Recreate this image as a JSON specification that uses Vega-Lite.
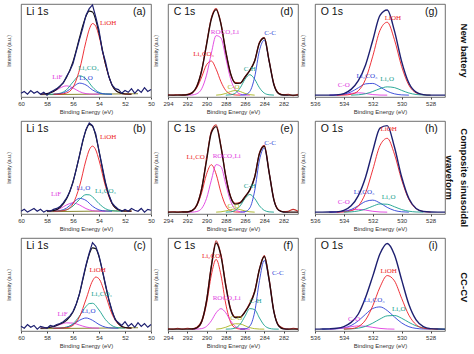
{
"$schema":"https://vega.github.io/schema/vega-lite/v6.json",
"padding":{"left":5,"top":2,"right":0,"bottom":0},
"background":"white",
"data":{"values":[
{"e":"Li","c":"N","x":60,"raw":4},{"e":"Li","c":"N","x":59.75,"raw":6},{"e":"Li","c":"N","x":59.5,"raw":3},{"e":"Li","c":"N","x":59.25,"raw":7},{"e":"Li","c":"N","x":59,"raw":4},{"e":"Li","c":"N","x":58.75,"raw":6},
{"e":"Li","c":"N","x":58.5,"raw":3,"fit":3,"LiF":3,"bg":2.5},{"e":"Li","c":"N","x":58.25,"raw":5},
{"e":"Li","c":"N","x":58,"raw":2,"fit":3.6,"Li2CO3":3,"LiF":3.6},{"e":"Li","c":"N","x":57.75,"raw":5},
{"e":"Li","c":"N","x":57.5,"raw":7,"fit":5.9,"LiOH":3,"Li2CO3":3.1,"Li2O":3,"LiF":5.8},{"e":"Li","c":"N","x":57.25,"raw":9},
{"e":"Li","c":"N","x":57,"raw":12,"fit":11.4,"LiOH":3.1,"Li2CO3":4,"Li2O":3.6,"LiF":9.7},{"e":"Li","c":"N","x":56.75,"raw":15},
{"e":"Li","c":"N","x":56.5,"raw":22,"fit":21,"LiOH":4.3,"Li2CO3":7.8,"Li2O":5.9,"LiF":12},{"e":"Li","c":"N","x":56.25,"raw":28},
{"e":"Li","c":"N","x":56,"raw":36,"fit":38,"LiOH":10.4,"Li2CO3":16.1,"Li2O":10.8,"LiF":9.7},{"e":"Li","c":"N","x":55.75,"raw":49},
{"e":"Li","c":"N","x":55.5,"raw":62,"fit":63.7,"LiOH":29.2,"Li2CO3":22.8,"Li2O":14.9,"LiF":5.8},{"e":"Li","c":"N","x":55.25,"raw":74,"fit":76.6},
{"e":"Li","c":"N","x":55,"raw":88,"fit":86.8,"LiOH":59.8,"Li2CO3":19.5,"Li2O":12.9,"LiF":3.6},{"e":"Li","c":"N","x":54.75,"raw":95,"fit":92.3,"LiOH":72.7},
{"e":"Li","c":"N","x":54.5,"raw":99,"fit":91.4,"LiOH":79,"Li2CO3":10.7,"Li2O":7.6,"LiF":3.1},{"e":"Li","c":"N","x":54.25,"raw":86,"fit":82.8,"LiOH":76.1},
{"e":"Li","c":"N","x":54,"raw":72,"fit":68.7,"LiOH":65.5,"Li2CO3":5,"Li2O":4.2,"LiF":3},{"e":"Li","c":"N","x":53.75,"raw":50},
{"e":"Li","c":"N","x":53.5,"raw":38,"fit":35.3,"LiOH":34.8,"Li2CO3":3.3,"Li2O":3.2},{"e":"Li","c":"N","x":53.25,"raw":22},
{"e":"Li","c":"N","x":53,"raw":13,"fit":13,"LiOH":13,"Li2CO3":3,"Li2O":3},{"e":"Li","c":"N","x":52.75,"raw":9},
{"e":"Li","c":"N","x":52.5,"raw":8,"fit":5,"LiOH":5},{"e":"Li","c":"N","x":52.25,"raw":4},
{"e":"Li","c":"N","x":52,"raw":7,"fit":3.2,"LiOH":3.2},{"e":"Li","c":"N","x":51.75,"raw":5},
{"e":"Li","c":"N","x":51.5,"raw":9,"fit":3,"LiOH":3},{"e":"Li","c":"N","x":51.25,"raw":4},
{"e":"Li","c":"N","x":51,"raw":8,"bg":3.5},{"e":"Li","c":"N","x":50.75,"raw":5},{"e":"Li","c":"N","x":50.5,"raw":10},{"e":"Li","c":"N","x":50.25,"raw":6},{"e":"Li","c":"N","x":50,"raw":8},

{"e":"Li","c":"S","x":60,"raw":3},{"e":"Li","c":"S","x":59.75,"raw":5},{"e":"Li","c":"S","x":59.5,"raw":2},{"e":"Li","c":"S","x":59.25,"raw":4},{"e":"Li","c":"S","x":59,"raw":6},{"e":"Li","c":"S","x":58.75,"raw":3},{"e":"Li","c":"S","x":58.5,"raw":5},{"e":"Li","c":"S","x":58.25,"raw":2},
{"e":"Li","c":"S","x":58,"raw":4,"fit":3,"LiF":3.1,"bg":2.5},{"e":"Li","c":"S","x":57.75,"raw":3},
{"e":"Li","c":"S","x":57.5,"raw":5,"fit":3.6,"LiOH":3,"Li2CO3":3,"Li2O":3,"LiF":3.6},{"e":"Li","c":"S","x":57.25,"raw":6},
{"e":"Li","c":"S","x":57,"raw":8,"fit":7,"LiOH":3.2,"Li2CO3":3.3,"Li2O":3.7,"LiF":5.8},{"e":"Li","c":"S","x":56.75,"raw":12},
{"e":"Li","c":"S","x":56.5,"raw":17,"fit":16,"LiOH":4.5,"Li2CO3":4.5,"Li2O":6.3,"LiF":9.7},{"e":"Li","c":"S","x":56.25,"raw":24},
{"e":"Li","c":"S","x":56,"raw":34,"fit":34.7,"LiOH":11,"Li2CO3":8.6,"Li2O":12.1,"LiF":12},{"e":"Li","c":"S","x":55.75,"raw":48},
{"e":"Li","c":"S","x":55.5,"raw":63,"fit":62.9,"LiOH":29.7,"Li2CO3":15.7,"Li2O":16.8,"LiF":9.7},{"e":"Li","c":"S","x":55.25,"raw":79,"fit":77.9},
{"e":"Li","c":"S","x":55,"raw":91,"fit":90.2,"LiOH":58,"Li2CO3":20.8,"Li2O":14.6,"LiF":5.8},{"e":"Li","c":"S","x":54.75,"raw":98,"fit":96.4,"LiOH":68.9,"Li2CO3":20.6},
{"e":"Li","c":"S","x":54.5,"raw":95,"fit":94.4,"LiOH":73,"Li2CO3":18.4,"Li2O":8.4,"LiF":3.6},{"e":"Li","c":"S","x":54.25,"raw":86,"fit":84,"LiOH":68.9},
{"e":"Li","c":"S","x":54,"raw":68,"fit":67.7,"LiOH":58,"Li2CO3":11.2,"Li2O":4.4,"LiF":3.1},{"e":"Li","c":"S","x":53.75,"raw":51},
{"e":"Li","c":"S","x":53.5,"raw":34,"fit":32.6,"LiOH":29.7,"Li2CO3":5.7,"Li2O":3.2,"LiF":3},{"e":"Li","c":"S","x":53.25,"raw":21},
{"e":"Li","c":"S","x":53,"raw":12,"fit":11.6,"LiOH":11,"Li2CO3":3.6,"Li2O":3},{"e":"Li","c":"S","x":52.75,"raw":8},
{"e":"Li","c":"S","x":52.5,"raw":5,"fit":4.6,"LiOH":4.5,"Li2CO3":3.1},{"e":"Li","c":"S","x":52.25,"raw":3},
{"e":"Li","c":"S","x":52,"raw":5,"fit":3.2,"LiOH":3.1,"Li2CO3":3},{"e":"Li","c":"S","x":51.75,"raw":3},
{"e":"Li","c":"S","x":51.5,"raw":6,"fit":3,"LiOH":3,"bg":3.5},{"e":"Li","c":"S","x":51.25,"raw":4},{"e":"Li","c":"S","x":51,"raw":3},{"e":"Li","c":"S","x":50.75,"raw":6},{"e":"Li","c":"S","x":50.5,"raw":2},{"e":"Li","c":"S","x":50.25,"raw":5},{"e":"Li","c":"S","x":50,"raw":4},

{"e":"Li","c":"C","x":60,"raw":5},{"e":"Li","c":"C","x":59.75,"raw":3},{"e":"Li","c":"C","x":59.5,"raw":7},{"e":"Li","c":"C","x":59.25,"raw":4},{"e":"Li","c":"C","x":59,"raw":6},{"e":"Li","c":"C","x":58.75,"raw":2},
{"e":"Li","c":"C","x":58.5,"raw":5,"fit":3.1,"LiF":3.1,"bg":2.5},{"e":"Li","c":"C","x":58.25,"raw":4},
{"e":"Li","c":"C","x":58,"raw":3,"fit":3.5,"LiF":3.5},{"e":"Li","c":"C","x":57.75,"raw":6},
{"e":"Li","c":"C","x":57.5,"raw":5,"fit":4.7,"LiOH":3,"Li2CO3":3,"Li2O":3,"LiF":4.7},{"e":"Li","c":"C","x":57.25,"raw":7},
{"e":"Li","c":"C","x":57,"raw":8,"fit":7.4,"LiOH":3.1,"Li2CO3":3.2,"Li2O":3.2,"LiF":6.9},{"e":"Li","c":"C","x":56.75,"raw":10},
{"e":"Li","c":"C","x":56.5,"raw":13,"fit":11.5,"LiOH":3.5,"Li2CO3":4.1,"Li2O":4.1,"LiF":8.8},{"e":"Li","c":"C","x":56.25,"raw":16},
{"e":"Li","c":"C","x":56,"raw":21,"fit":20.3,"LiOH":6.1,"Li2CO3":7.7,"Li2O":7,"LiF":8.5},{"e":"Li","c":"C","x":55.75,"raw":29},
{"e":"Li","c":"C","x":55.5,"raw":40,"fit":40.3,"LiOH":15.3,"Li2CO3":16.1,"Li2O":11.5,"LiF":6.4},{"e":"Li","c":"C","x":55.25,"raw":56,"fit":54.7},
{"e":"Li","c":"C","x":55,"raw":71,"fit":69.8,"LiOH":34.1,"Li2CO3":26.4,"Li2O":14,"LiF":4.3},{"e":"Li","c":"C","x":54.75,"raw":84,"fit":82.5,"Li2CO3":29.5},
{"e":"Li","c":"C","x":54.5,"raw":95,"fit":89.4,"LiOH":53.8,"Li2CO3":29.8,"Li2O":11.5,"LiF":3.3},{"e":"Li","c":"C","x":54.25,"raw":91,"fit":88.5,"LiOH":58},
{"e":"Li","c":"C","x":54,"raw":81,"fit":79.7,"LiOH":56.1,"Li2CO3":22.6,"Li2O":7,"LiF":3},{"e":"Li","c":"C","x":53.75,"raw":66,"fit":65.3},
{"e":"Li","c":"C","x":53.5,"raw":50,"fit":48.9,"LiOH":38.6,"Li2CO3":12.2,"Li2O":4.1},{"e":"Li","c":"C","x":53.25,"raw":34},
{"e":"Li","c":"C","x":53,"raw":22,"fit":21.3,"LiOH":18.3,"Li2CO3":5.8,"Li2O":3.2},{"e":"Li","c":"C","x":52.75,"raw":12},
{"e":"Li","c":"C","x":52.5,"raw":9,"fit":7.7,"LiOH":7.2,"Li2CO3":3.5,"Li2O":3},{"e":"Li","c":"C","x":52.25,"raw":6},
{"e":"Li","c":"C","x":52,"raw":10,"fit":3.8,"LiOH":3.7,"Li2CO3":3.1},{"e":"Li","c":"C","x":51.75,"raw":5},
{"e":"Li","c":"C","x":51.5,"raw":8,"fit":3.1,"LiOH":3.1},{"e":"Li","c":"C","x":51.25,"raw":4},
{"e":"Li","c":"C","x":51,"raw":9,"bg":3.5},{"e":"Li","c":"C","x":50.75,"raw":5},{"e":"Li","c":"C","x":50.5,"raw":8},{"e":"Li","c":"C","x":50.25,"raw":4},{"e":"Li","c":"C","x":50,"raw":7},

{"e":"C","c":"N","x":294,"C_raw":2.5,"C_fit":2},{"e":"C","c":"N","x":293.5,"C_raw":2,"C_fit":2},{"e":"C","c":"N","x":293,"C_raw":2.5,"C_fit":2},
{"e":"C","c":"N","x":292.5,"C_raw":2,"C_fit":2.1,"C_Li2CO3":2},
{"e":"C","c":"N","x":292,"C_raw":3,"C_fit":2.4,"C_Li2CO3":2.4,"ROCO2Li":2},
{"e":"C","c":"N","x":291.5,"C_raw":4.5,"C_fit":4.4,"C_Li2CO3":4.2,"ROCO2Li":2.2},
{"e":"C","c":"N","x":291,"C_raw":12,"C_fit":11.5,"C_Li2CO3":10,"ROCO2Li":3.5},
{"e":"C","c":"N","x":290.5,"C_raw":29,"C_fit":28.5,"C_Li2CO3":21.6,"ROCO2Li":8.9},
{"e":"C","c":"N","x":290,"C_raw":57,"C_fit":56.1,"C_Li2CO3":34.6,"ROCO2Li":23.5},
{"e":"C","c":"N","x":289.5,"C_raw":85,"C_fit":83.7,"C_Li2CO3":38.7,"ROCO2Li":47},
{"e":"C","c":"N","x":289,"C_raw":95,"C_fit":94,"C_Li2CO3":29.9,"ROCO2Li":66,"CO":2},
{"e":"C","c":"N","x":288.5,"C_raw":79,"C_fit":78.4,"C_Li2CO3":16.4,"ROCO2Li":63.5,"CO":2.5},
{"e":"C","c":"N","x":288,"C_raw":49,"C_fit":48.9,"C_Li2CO3":7,"ROCO2Li":42.1,"CO":3.8,"CH":2},
{"e":"C","c":"N","x":287.5,"C_raw":25,"C_fit":25.1,"C_Li2CO3":3.2,"ROCO2Li":19.6,"CO":5.9,"CH":2.4},
{"e":"C","c":"N","x":287,"C_raw":15.5,"C_fit":14.7,"C_Li2CO3":2.2,"ROCO2Li":7.3,"CO":7,"CH":4.2},
{"e":"C","c":"N","x":286.5,"C_raw":15,"C_fit":14.9,"C_Li2CO3":2,"ROCO2Li":3.1,"CO":5.9,"CH":9.9,"CC":2},
{"e":"C","c":"N","x":286,"C_raw":22,"C_fit":21.4,"ROCO2Li":2.1,"CO":3.8,"CH":19.1,"CC":2.4},
{"e":"C","c":"N","x":285.5,"C_raw":29,"C_fit":28.5,"ROCO2Li":2,"CO":2.5,"CH":24,"CC":6},
{"e":"C","c":"N","x":285,"C_raw":39,"C_fit":38.6,"CO":2,"CH":19.1,"CC":21.5},
{"e":"C","c":"N","x":284.5,"C_raw":59,"C_fit":58,"CH":9.9,"CC":50.1},
{"e":"C","c":"N","x":284,"C_raw":64,"C_fit":63.4,"CH":4.2,"CC":61.2},
{"e":"C","c":"N","x":283.5,"C_raw":39,"C_fit":38.8,"CH":2.4,"CC":38.4},
{"e":"C","c":"N","x":283,"C_raw":14,"C_fit":13.2,"CH":2,"CC":13.2},
{"e":"C","c":"N","x":282.5,"C_raw":4,"C_fit":3.7,"CC":3.7},
{"e":"C","c":"N","x":282,"C_raw":2.5,"C_fit":2.1,"CC":2.1},
{"e":"C","c":"N","x":281.5,"C_raw":3,"C_fit":2,"CC":2},
{"e":"C","c":"N","x":281,"C_raw":1.5,"C_fit":2},{"e":"C","c":"N","x":280.5,"C_raw":3,"C_fit":2},

{"e":"C","c":"S","x":294,"C_raw":2,"C_fit":2},{"e":"C","c":"S","x":293.5,"C_raw":2.5,"C_fit":2},{"e":"C","c":"S","x":293,"C_raw":2,"C_fit":2},
{"e":"C","c":"S","x":292.5,"C_raw":2.5,"C_fit":2.1,"C_Li2CO3":2},
{"e":"C","c":"S","x":292,"C_raw":2.5,"C_fit":2.2,"C_Li2CO3":2.2,"ROCO2Li":2},
{"e":"C","c":"S","x":291.5,"C_raw":4,"C_fit":3.6,"C_Li2CO3":3.5,"ROCO2Li":2.1},
{"e":"C","c":"S","x":291,"C_raw":10,"C_fit":9.6,"C_Li2CO3":8.9,"ROCO2Li":2.7},
{"e":"C","c":"S","x":290.5,"C_raw":28,"C_fit":27,"C_Li2CO3":23,"ROCO2Li":6},
{"e":"C","c":"S","x":290,"C_raw":59,"C_fit":57.5,"C_Li2CO3":42.8,"ROCO2Li":16.7},
{"e":"C","c":"S","x":289.5,"C_raw":89,"C_fit":87.3,"C_Li2CO3":53,"ROCO2Li":36.3},
{"e":"C","c":"S","x":289,"C_raw":96,"C_fit":93.9,"C_Li2CO3":42.8,"ROCO2Li":53.1,"CO":2},
{"e":"C","c":"S","x":288.5,"C_raw":73,"C_fit":72.3,"C_Li2CO3":23,"ROCO2Li":50.9,"CO":2.35},
{"e":"C","c":"S","x":288,"C_raw":41,"C_fit":40.2,"C_Li2CO3":8.9,"ROCO2Li":32,"CO":3.3,"CH":2},
{"e":"C","c":"S","x":287.5,"C_raw":19,"C_fit":18.3,"C_Li2CO3":3.5,"ROCO2Li":13.8,"CO":4.7,"CH":2.3},
{"e":"C","c":"S","x":287,"C_raw":11.5,"C_fit":10.6,"C_Li2CO3":2.2,"ROCO2Li":5,"CO":5.5,"CH":3.9},
{"e":"C","c":"S","x":286.5,"C_raw":12.5,"C_fit":12,"C_Li2CO3":2,"ROCO2Li":2.5,"CO":4.7,"CH":8.8,"CC":2},
{"e":"C","c":"S","x":286,"C_raw":19,"C_fit":18.5,"ROCO2Li":2,"CO":3.3,"CH":16.7,"CC":2.5},
{"e":"C","c":"S","x":285.5,"C_raw":26,"C_fit":26,"CO":2.35,"CH":21,"CC":6.6},
{"e":"C","c":"S","x":285,"C_raw":40,"C_fit":39.5,"CO":2,"CH":16.7,"CC":24.8},
{"e":"C","c":"S","x":284.5,"C_raw":66,"C_fit":64.9,"CH":8.8,"CC":58.1},
{"e":"C","c":"S","x":284,"C_raw":74,"C_fit":72.9,"CH":3.9,"CC":71},
{"e":"C","c":"S","x":283.5,"C_raw":45,"C_fit":44.8,"CH":2.3,"CC":44.5},
{"e":"C","c":"S","x":283,"C_raw":15.5,"C_fit":15,"CH":2,"CC":15},
{"e":"C","c":"S","x":282.5,"C_raw":4.5,"C_fit":4,"CC":4},
{"e":"C","c":"S","x":282,"C_raw":2.5,"C_fit":2.2,"CC":2.2},
{"e":"C","c":"S","x":281.5,"C_raw":3,"C_fit":2,"CC":2},
{"e":"C","c":"S","x":281,"C_raw":5,"C_fit":2},{"e":"C","c":"S","x":280.5,"C_raw":3,"C_fit":2},

{"e":"C","c":"C","x":294,"C_raw":2.5,"C_fit":2},{"e":"C","c":"C","x":293.5,"C_raw":2,"C_fit":2},{"e":"C","c":"C","x":293,"C_raw":3,"C_fit":2},{"e":"C","c":"C","x":292.5,"C_raw":2,"C_fit":2},{"e":"C","c":"C","x":292,"C_raw":3,"C_fit":2},
{"e":"C","c":"C","x":291.5,"C_raw":2.5,"C_fit":2.1,"C_Li2CO3":2.1,"ROCO2Li":2},
{"e":"C","c":"C","x":291,"C_raw":4,"C_fit":3.4,"C_Li2CO3":3.3,"ROCO2Li":2.1},
{"e":"C","c":"C","x":290.5,"C_raw":11,"C_fit":10.1,"C_Li2CO3":9.5,"ROCO2Li":2.6},
{"e":"C","c":"C","x":290,"C_raw":33,"C_fit":32,"C_Li2CO3":29,"ROCO2Li":5},
{"e":"C","c":"C","x":289.5,"C_raw":70,"C_fit":69.1,"C_Li2CO3":60.1,"ROCO2Li":11},
{"e":"C","c":"C","x":289,"C_raw":97,"C_fit":94.6,"C_Li2CO3":77,"ROCO2Li":19.6,"CO":2},
{"e":"C","c":"C","x":288.5,"C_raw":82,"C_fit":80.7,"C_Li2CO3":60.1,"ROCO2Li":24,"CO":2.6},
{"e":"C","c":"C","x":288,"C_raw":50,"C_fit":48.6,"C_Li2CO3":29,"ROCO2Li":19.6,"CO":4,"CH":2},
{"e":"C","c":"C","x":287.5,"C_raw":24,"C_fit":22.8,"C_Li2CO3":9.5,"ROCO2Li":11,"CO":6.1,"CH":2.2},
{"e":"C","c":"C","x":287,"C_raw":15,"C_fit":14.5,"C_Li2CO3":3.3,"ROCO2Li":5,"CO":7.8,"CH":3.2},
{"e":"C","c":"C","x":286.5,"C_raw":15,"C_fit":15,"C_Li2CO3":2.1,"ROCO2Li":2.6,"CO":7.6,"CH":7.3,"CC":2},
{"e":"C","c":"C","x":286,"C_raw":21,"C_fit":20.5,"C_Li2CO3":2,"ROCO2Li":2.1,"CO":5.6,"CH":16,"CC":2.3},
{"e":"C","c":"C","x":285.5,"C_raw":30,"C_fit":29,"ROCO2Li":2,"CO":3.6,"CH":24.1,"CC":5.3},
{"e":"C","c":"C","x":285,"C_raw":43,"C_fit":41.9,"CO":2.5,"CH":23,"CC":20.4},
{"e":"C","c":"C","x":284.5,"C_raw":67,"C_fit":66.4,"CO":2.1,"CH":14,"CC":54.3},
{"e":"C","c":"C","x":284,"C_raw":81,"C_fit":80.1,"CO":2,"CH":6.1,"CC":76},
{"e":"C","c":"C","x":283.5,"C_raw":56,"C_fit":55.2,"CH":2.9,"CC":54.3},
{"e":"C","c":"C","x":283,"C_raw":21,"C_fit":20.5,"CH":2.1,"CC":20.4},
{"e":"C","c":"C","x":282.5,"C_raw":6,"C_fit":5.3,"CH":2,"CC":5.3},
{"e":"C","c":"C","x":282,"C_raw":3,"C_fit":2.3,"CC":2.3},
{"e":"C","c":"C","x":281.5,"C_raw":2,"C_fit":2,"CC":2},
{"e":"C","c":"C","x":281,"C_raw":3,"C_fit":2},{"e":"C","c":"C","x":280.5,"C_raw":2,"C_fit":2},

{"e":"O","c":"N","x":536,"O_fit":2},{"e":"O","c":"N","x":535.5,"O_fit":2},
{"e":"O","c":"N","x":535,"O_fit":2,"O_Li2CO3":2,"O_CO":2},
{"e":"O","c":"N","x":534.5,"O_fit":2.3,"LiOH":2,"O_Li2CO3":2.2,"O_CO":2.1},
{"e":"O","c":"N","x":534,"O_fit":3.7,"LiOH":2.1,"O_Li2CO3":3,"O_CO":2.6},
{"e":"O","c":"N","x":533.5,"O_fit":8.2,"LiOH":2.9,"O_Li2CO3":5.5,"O_Li2O":2,"O_CO":3.8},
{"e":"O","c":"N","x":533,"O_fit":17.5,"LiOH":6.7,"O_Li2CO3":9.9,"O_Li2O":2.4,"O_CO":4.5},
{"e":"O","c":"N","x":532.5,"O_fit":34.5,"LiOH":19.1,"O_Li2CO3":14.1,"O_Li2O":3.5,"O_CO":3.8},
{"e":"O","c":"N","x":532,"O_fit":61,"LiOH":43.9,"O_Li2CO3":14.6,"O_Li2O":5.9,"O_CO":2.6},
{"e":"O","c":"N","x":531.5,"O_fit":87.7,"LiOH":71.7,"O_Li2CO3":10.9,"O_Li2O":9,"O_CO":2.1},
{"e":"O","c":"N","x":531,"O_fit":93.5,"LiOH":80.4,"O_Li2CO3":6.2,"O_Li2O":10.9,"O_CO":2},
{"e":"O","c":"N","x":530.5,"O_fit":71.1,"LiOH":61.6,"O_Li2CO3":3.4,"O_Li2O":10.1},
{"e":"O","c":"N","x":530,"O_fit":38.1,"LiOH":32.7,"O_Li2CO3":2.3,"O_Li2O":7.1},
{"e":"O","c":"N","x":529.5,"O_fit":15,"LiOH":12.7,"O_Li2CO3":2,"O_Li2O":4.3},
{"e":"O","c":"N","x":529,"O_fit":5.2,"LiOH":4.5,"O_Li2O":2.7},
{"e":"O","c":"N","x":528.5,"O_fit":2.6,"LiOH":2.4,"O_Li2O":2.2},
{"e":"O","c":"N","x":528,"O_fit":2,"LiOH":2,"O_Li2O":2},
{"e":"O","c":"N","x":527.5,"O_fit":2},{"e":"O","c":"N","x":527,"O_fit":2},

{"e":"O","c":"S","x":536,"O_fit":2},{"e":"O","c":"S","x":535.5,"O_fit":2},
{"e":"O","c":"S","x":535,"O_fit":2.1,"O_Li2CO3":2,"O_CO":2},
{"e":"O","c":"S","x":534.5,"O_fit":2.3,"LiOH":2,"O_Li2CO3":2.1,"O_CO":2.2},
{"e":"O","c":"S","x":534,"O_fit":3.9,"LiOH":2.2,"O_Li2CO3":2.8,"O_Li2O":2,"O_CO":2.9},
{"e":"O","c":"S","x":533.5,"O_fit":8.8,"LiOH":3.5,"O_Li2CO3":4.8,"O_Li2O":2.3,"O_CO":4.2},
{"e":"O","c":"S","x":533,"O_fit":19.8,"LiOH":8.6,"O_Li2CO3":8.9,"O_Li2O":3.3,"O_CO":5},
{"e":"O","c":"S","x":532.5,"O_fit":39.6,"LiOH":22.6,"O_Li2CO3":13.5,"O_Li2O":5.3,"O_CO":4.2},
{"e":"O","c":"S","x":532,"O_fit":67.9,"LiOH":47.7,"O_Li2CO3":14.9,"O_Li2O":8.4,"O_CO":2.9},
{"e":"O","c":"S","x":531.5,"O_fit":92.4,"LiOH":73.6,"O_Li2CO3":11.8,"O_Li2O":10.8,"O_CO":2.2},
{"e":"O","c":"S","x":531,"O_fit":95,"LiOH":81.4,"O_Li2CO3":7.1,"O_Li2O":10.5,"O_CO":2},
{"e":"O","c":"S","x":530.5,"O_fit":72,"LiOH":64.4,"O_Li2CO3":3.8,"O_Li2O":7.8},
{"e":"O","c":"S","x":530,"O_fit":39.8,"LiOH":36.6,"O_Li2CO3":2.4,"O_Li2O":4.8},
{"e":"O","c":"S","x":529.5,"O_fit":16.6,"LiOH":15.6,"O_Li2CO3":2,"O_Li2O":3},
{"e":"O","c":"S","x":529,"O_fit":6,"LiOH":5.8,"O_Li2O":2.2},
{"e":"O","c":"S","x":528.5,"O_fit":2.7,"LiOH":2.7,"O_Li2O":2},
{"e":"O","c":"S","x":528,"O_fit":2.1,"LiOH":2.1},
{"e":"O","c":"S","x":527.5,"O_fit":2},{"e":"O","c":"S","x":527,"O_fit":2},

{"e":"O","c":"C","x":536,"O_fit":2},
{"e":"O","c":"C","x":535.5,"O_fit":2.1,"O_Li2CO3":2},
{"e":"O","c":"C","x":535,"O_fit":2.3,"O_Li2CO3":2.1,"O_CO":2},
{"e":"O","c":"C","x":534.5,"O_fit":2.9,"O_Li2CO3":2.4,"O_CO":2.5},
{"e":"O","c":"C","x":534,"O_fit":4.8,"LiOH":2.1,"O_Li2CO3":3.3,"O_Li2O":2,"O_CO":3.4},
{"e":"O","c":"C","x":533.5,"O_fit":9.3,"LiOH":2.5,"O_Li2CO3":5.9,"O_Li2O":2.3,"O_CO":4.6},
{"e":"O","c":"C","x":533,"O_fit":18.3,"LiOH":4.7,"O_Li2CO3":11,"O_Li2O":3.1,"O_CO":5.5},
{"e":"O","c":"C","x":532.5,"O_fit":36,"LiOH":11.9,"O_Li2CO3":18,"O_Li2O":5,"O_CO":5.1},
{"e":"O","c":"C","x":532,"O_fit":59,"LiOH":27.1,"O_Li2CO3":24.2,"O_Li2O":8.5,"O_CO":3.9},
{"e":"O","c":"C","x":531.5,"O_fit":83,"LiOH":47.2,"O_Li2CO3":25.9,"O_Li2O":12.9,"O_CO":2.8},
{"e":"O","c":"C","x":531,"O_fit":94.1,"LiOH":59.6,"O_Li2CO3":22,"O_Li2O":16.3,"O_CO":2.2},
{"e":"O","c":"C","x":530.5,"O_fit":82,"LiOH":53.9,"O_Li2CO3":15.1,"O_Li2O":16.7,"O_CO":2},
{"e":"O","c":"C","x":530,"O_fit":55,"LiOH":35.1,"O_Li2CO3":8.7,"O_Li2O":13.7},
{"e":"O","c":"C","x":529.5,"O_fit":28.5,"LiOH":17,"O_Li2CO3":4.6,"O_Li2O":9.3},
{"e":"O","c":"C","x":529,"O_fit":12,"LiOH":6.8,"O_Li2CO3":2.8,"O_Li2O":5.5},
{"e":"O","c":"C","x":528.5,"O_fit":4.8,"LiOH":3.1,"O_Li2CO3":2.2,"O_Li2O":3.3},
{"e":"O","c":"C","x":528,"O_fit":2.6,"LiOH":2.2,"O_Li2CO3":2,"O_Li2O":2.4},
{"e":"O","c":"C","x":527.5,"O_fit":2.1,"LiOH":2,"O_Li2O":2.1},
{"e":"O","c":"C","x":527,"O_fit":2,"O_Li2O":2},

{"e":"Li","c":"N","x":53.3,"y":80,"t":"LiOH","k":"LiOH"},{"e":"Li","c":"N","x":54.8,"y":31,"t":"Li₂CO₃","k":"Li2CO3"},{"e":"Li","c":"N","x":55.0,"y":20,"t":"Li₂O","k":"Li2O"},{"e":"Li","c":"N","x":57.2,"y":21,"t":"LiF","k":"LiF"},
{"e":"Li","c":"S","x":53.3,"y":83,"t":"LiOH","k":"LiOH"},{"e":"Li","c":"S","x":53.5,"y":25,"t":"Li₂CO₃","k":"Li2CO3"},{"e":"Li","c":"S","x":55.2,"y":28,"t":"Li₂O","k":"Li2O"},{"e":"Li","c":"S","x":57.3,"y":21,"t":"LiF","k":"LiF"},
{"e":"Li","c":"C","x":54.1,"y":66,"t":"LiOH","k":"LiOH"},{"e":"Li","c":"C","x":53.8,"y":40,"t":"Li₂CO₃","k":"Li2CO3"},{"e":"Li","c":"C","x":54.8,"y":22,"t":"Li₂O","k":"Li2O"},{"e":"Li","c":"C","x":56.8,"y":18,"t":"LiF","k":"LiF"},
{"e":"C","c":"N","x":288.1,"y":70,"t":"ROCO₂Li","k":"ROCO2Li"},{"e":"C","c":"N","x":290.3,"y":46,"t":"Li₂CO₃","k":"C_Li2CO3"},{"e":"C","c":"N","x":283.4,"y":69,"t":"C-C","k":"CC"},{"e":"C","c":"N","x":285.5,"y":30,"t":"C-H","k":"CH"},{"e":"C","c":"N","x":287.2,"y":11,"t":"C-O","k":"CO"},
{"e":"C","c":"S","x":291,"y":61,"t":"Li₂CO₃","k":"C_Li2CO3"},{"e":"C","c":"S","x":287.9,"y":62,"t":"ROCO₂Li","k":"ROCO2Li"},{"e":"C","c":"S","x":283.4,"y":76,"t":"C-C","k":"CC"},{"e":"C","c":"S","x":285.5,"y":30,"t":"C-H","k":"CH"},{"e":"C","c":"S","x":287.2,"y":9,"t":"C-O","k":"CO"},
{"e":"C","c":"C","x":289.4,"y":81,"t":"Li₂CO₃","k":"C_Li2CO3"},{"e":"C","c":"C","x":287.9,"y":35,"t":"ROCO₂Li","k":"ROCO2Li"},{"e":"C","c":"C","x":282.6,"y":62,"t":"C-C","k":"CC"},{"e":"C","c":"C","x":284.9,"y":32,"t":"C-H","k":"CH"},{"e":"C","c":"C","x":286.9,"y":14,"t":"C-O","k":"CO"},
{"e":"O","c":"N","x":530.6,"y":85,"t":"LiOH","k":"LiOH"},{"e":"O","c":"N","x":532.4,"y":23,"t":"Li₂CO₃","k":"O_Li2CO3"},{"e":"O","c":"N","x":531.0,"y":19,"t":"Li₂O","k":"O_Li2O"},{"e":"O","c":"N","x":534.0,"y":13,"t":"C-O","k":"O_CO"},
{"e":"O","c":"S","x":530.9,"y":91,"t":"LiOH","k":"LiOH"},{"e":"O","c":"S","x":532.6,"y":24,"t":"Li₂CO₃","k":"O_Li2CO3"},{"e":"O","c":"S","x":530.9,"y":18,"t":"Li₂O","k":"O_Li2O"},{"e":"O","c":"S","x":534.0,"y":13,"t":"C-O","k":"O_CO"},
{"e":"O","c":"C","x":530.9,"y":64,"t":"LiOH","k":"LiOH"},{"e":"O","c":"C","x":531.9,"y":33,"t":"Li₂CO₃","k":"O_Li2CO3"},{"e":"O","c":"C","x":530.2,"y":24,"t":"Li₂O","k":"O_Li2O"},{"e":"O","c":"C","x":533.3,"y":13,"t":"C-O","k":"O_CO"},

{"e":"Li","c":"N","x":59.6,"y":91,"tl":"Li 1s"},{"e":"Li","c":"N","x":50.4,"y":91,"tr":"(a)"},
{"e":"Li","c":"S","x":59.6,"y":91,"tl":"Li 1s"},{"e":"Li","c":"S","x":50.4,"y":91,"tr":"(b)"},
{"e":"Li","c":"C","x":59.6,"y":91,"tl":"Li 1s"},{"e":"Li","c":"C","x":50.4,"y":91,"tr":"(c)"},
{"e":"C","c":"N","x":293.4,"y":91,"tl":"C 1s"},{"e":"C","c":"N","x":281,"y":91,"tr":"(d)"},
{"e":"C","c":"S","x":293.4,"y":91,"tl":"C 1s"},{"e":"C","c":"S","x":281,"y":91,"tr":"(e)"},
{"e":"C","c":"C","x":293.4,"y":91,"tl":"C 1s"},{"e":"C","c":"C","x":281,"y":91,"tr":"(f)"},
{"e":"O","c":"N","x":535.6,"y":91,"tl":"O 1s"},{"e":"O","c":"N","x":527.5,"y":91,"tr":"(g)"},
{"e":"O","c":"S","x":535.6,"y":91,"tl":"O 1s"},{"e":"O","c":"S","x":527.5,"y":91,"tr":"(h)"},
{"e":"O","c":"C","x":535.6,"y":91,"tl":"O 1s"},{"e":"O","c":"C","x":527.5,"y":91,"tr":"(i)"},

{"e":"O","c":"N","x":527,"y":50,"rl":"New battery"},
{"e":"O","c":"S","x":527,"y":39,"rl":"Composite sinusoidal"},
{"e":"O","c":"S","x":527,"y":39,"rl2":"waveform"},
{"e":"O","c":"C","x":527,"y":47,"rl":"CC-CV"}
]},
"facet":{
 "row":{"field":"c","type":"nominal","sort":["N","S","C"],"title":null,"header":null},
 "column":{"field":"e","type":"nominal","sort":["Li","C","O"],"title":null,"header":null}
},
"bounds":"flush",
"spacing":{"row":24,"column":17},
"resolve":{"scale":{"x":"independent"},"axis":{"x":"independent","y":"independent"}},
"spec":{
 "width":130,"height":93,
 "encoding":{
  "x":{"field":"x","type":"quantitative","scale":{"reverse":true,"nice":false,"zero":false},"title":"Binding Energy (eV)"},
  "y":{"field":"y","type":"quantitative","scale":{"domain":[0,100]},"title":"Intensity (a.u.)"},
  "color":{"field":"k","type":"nominal","legend":null,"scale":{
   "domain":["LiOH","Li2CO3","Li2O","LiF","bg","fit","raw","C_Li2CO3","ROCO2Li","CC","CH","CO","C_raw","C_fit","O_Li2CO3","O_Li2O","O_CO","O_fit"],
   "range":["#ec1c24","#16a08c","#2e3fd6","#e03ce0","#7a7a1a","#111111","#1d1f70","#ec1c24","#e03ce0","#2e3fd6","#16a08c","#a8b420","#c8302c","#2a0a0a","#2e3fd6","#16a08c","#e03ce0","#1d1f70"]}}
 },
 "layer":[
  {"transform":[{"fold":["bg","LiF","Li2O","Li2CO3","CO","CH","CC","C_Li2CO3","ROCO2Li","O_CO","O_Li2O","O_Li2CO3","LiOH"],"as":["k","y"]},{"filter":{"field":"y","valid":true}}],
   "mark":{"type":"line","interpolate":"monotone","strokeWidth":0.9}},
  {"transform":[{"fold":["fit","C_raw"],"as":["k","y"]},{"filter":{"field":"y","valid":true}}],
   "mark":{"type":"line","interpolate":"monotone","strokeWidth":1.1}},
  {"transform":[{"fold":["raw"],"as":["k","y"]},{"filter":{"field":"y","valid":true}}],
   "mark":{"type":"line","interpolate":"linear","strokeWidth":1.2}},
  {"transform":[{"fold":["C_fit","O_fit"],"as":["k","y"]},{"filter":{"field":"y","valid":true}}],
   "mark":{"type":"line","interpolate":"monotone","strokeWidth":1.4}},
  {"transform":[{"filter":"isValid(datum.t)"}],
   "mark":{"type":"text","font":"Liberation Serif","fontSize":7,"align":"center","baseline":"middle"},
   "encoding":{"text":{"field":"t"}}},
  {"transform":[{"filter":"isValid(datum.tl)"}],
   "mark":{"type":"text","font":"Liberation Sans","fontSize":10.5,"align":"left","baseline":"middle"},
   "encoding":{"text":{"field":"tl"},"color":{"value":"#111"}}},
  {"transform":[{"filter":"isValid(datum.tr)"}],
   "mark":{"type":"text","font":"Liberation Sans","fontSize":10.5,"align":"right","baseline":"middle"},
   "encoding":{"text":{"field":"tr"},"color":{"value":"#111"}}},
  {"transform":[{"filter":"isValid(datum.rl)"}],
   "mark":{"type":"text","font":"Liberation Sans","fontSize":9.5,"fontWeight":"bold","angle":90,"align":"center","baseline":"middle","dy":-19},
   "encoding":{"text":{"field":"rl"},"color":{"value":"#111"}}},
  {"transform":[{"filter":"isValid(datum.rl2)"}],
   "mark":{"type":"text","font":"Liberation Sans","fontSize":9.5,"fontWeight":"bold","angle":90,"align":"center","baseline":"middle","dy":-4},
   "encoding":{"text":{"field":"rl2"},"color":{"value":"#111"}}}
 ]
},
"config":{
 "font":"Liberation Sans",
 "view":{"stroke":"#4a4a4a","strokeWidth":0.8},
 "axisX":{"tickCount":6,"labelFontSize":6,"labelColor":"#333","labelPadding":1,"labelFlush":false,"tickSize":2,"tickColor":"#444","domain":false,"grid":false,"titleFontSize":6,"titleFontWeight":"normal","titleColor":"#333","titlePadding":2},
 "axisY":{"labels":false,"ticks":false,"domain":false,"grid":false,"titleFontSize":5,"titleFontWeight":"normal","titleColor":"#333","titlePadding":10}
}
}
